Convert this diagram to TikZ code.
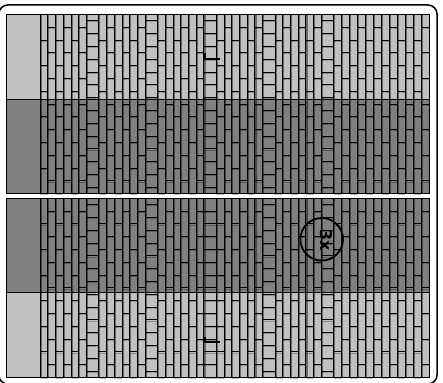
\documentclass[tikz,border=0pt]{standalone}
\usepackage{fontspec}
\newfontfamily\lblfont{DejaVu Sans}
\definecolor{lightg}{HTML}{C0C0C0}
\definecolor{darkg}{HTML}{808080}
\newcommand\drawpanel[4]{%
  % #1 top y, #2 split y, #3 = 1 light on top, 0 dark on top, #4 group whose stack column is shifted
  \pgfmathsetmacro\pbot{#1+179.2}
  \ifnum#3=1
    \fill[lightg] (6,#1) rectangle (429.5,#2);
    \fill[darkg] (6,#2) rectangle (429.5,\pbot);
  \else
    \fill[darkg] (6,#1) rectangle (429.5,#2);
    \fill[lightg] (6,#2) rectangle (429.5,\pbot);
  \fi
  \foreach \g in {0,...,4}{
    \foreach \i in {0,...,5}{
      \pgfmathsetmacro\xl{40+\g*58.73+\i*7.73}
      \pgfmathsetmacro\xr{\xl+7.73}
      \pgfmathtruncatemacro\pp{mod(\i,2)}
      \draw[vshadow] (\xl+1,#1) -- (\xl+1,\pbot);
      \draw[vline] (\xl,#1) -- (\xl,\pbot);
      \foreach \k in {0,...,6}{
        \pgfmathsetmacro\yy{#1+12.8*(2*\k+2-\pp)}
        \draw[jshadow] (\xl,\yy+1) -- (\xr,\yy+1);
        \draw[joint] (\xl,\yy) -- (\xr,\yy);
      }
    }
    \pgfmathsetmacro\xs{40+\g*58.73+46.38}
    \pgfmathsetmacro\ph{\g==#4 ? 12.8 : 6.4}
    \draw[vshadow] (\xs+1,#1) -- (\xs+1,\pbot);
    \draw[vline] (\xs,#1) -- (\xs,\pbot);
    \foreach \k in {0,...,13}{
      \pgfmathsetmacro\yy{#1+\ph+12.8*\k}
      \draw[jshadow] (\xs,\yy+1) -- (\xs+12.35,\yy+1);
      \draw[joint] (\xs,\yy) -- (\xs+12.35,\yy);
    }
  }
  \foreach \j in {0,...,11}{
    \pgfmathsetmacro\xl{333.65+\j*7.95}
    \pgfmathsetmacro\xr{\xl+7.95}
    \pgfmathtruncatemacro\pp{mod(\j,2)}
    \draw[vshadow] (\xl+1,#1) -- (\xl+1,\pbot);
    \draw[vline] (\xl,#1) -- (\xl,\pbot);
    \foreach \k in {0,...,6}{
      \pgfmathsetmacro\yy{#1+12.8*(2*\k+2-\pp)}
      \draw[jshadow] (\xl,\yy+1) -- (\xr,\yy+1);
      \draw[joint] (\xl,\yy) -- (\xr,\yy);
    }
  }
  \draw[vline] (429,#1) -- (429,\pbot);
  \draw[pedge] (6,#2) -- (429.5,#2);
  \draw[pedge] (6,#1) rectangle (429.5,\pbot);
}
\begin{document}
\begin{tikzpicture}[x=1pt,y=-1pt,
  vline/.style={black,line width=0.8pt},
  vshadow/.style={black,opacity=0.45,line width=1.4pt},
  joint/.style={black,line width=1pt},
  jshadow/.style={black,opacity=0.25,line width=0.8pt},
  pedge/.style={black,line width=1pt},
  lmark/.style={black,line width=2.3pt},
  frame/.style={black,line width=1.5pt,rounded corners=9pt}]
\useasboundingbox (0,0) rectangle (443,382);
\fill[white] (0,0) rectangle (443,382);
\drawpanel{14.5}{100}{1}{9}
\drawpanel{198.3}{292}{0}{2}
\draw[lmark] (204.5,53.5) -- (204.5,59.2) -- (220,59.2);
\draw[lmark] (204.5,337) -- (204.5,342) -- (220,342);
\draw[black,line width=1.8pt] (321.7,239.3) circle[radius=21.3];
\node[rotate=-90,font=\lblfont\bfseries\fontsize{16}{16}\selectfont,inner sep=0pt] (lbl) at (326,240.5) {3x};
\draw[frame] (-1.2,5) rectangle (437,384);
\end{tikzpicture}
\end{document}
